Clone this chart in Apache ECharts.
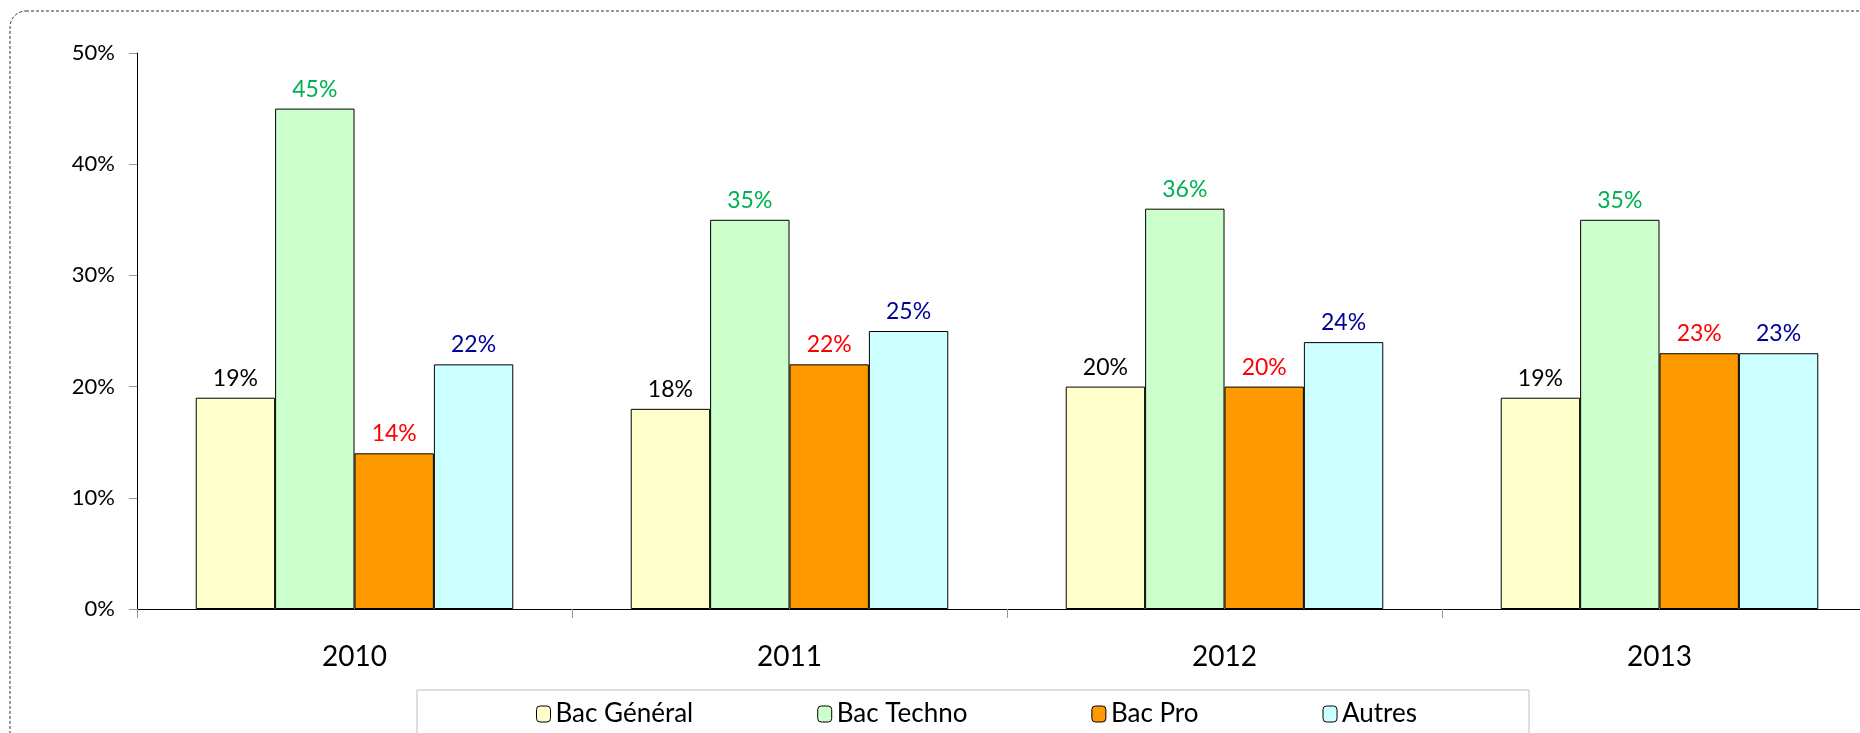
<!DOCTYPE html>
<html>
<head>
<meta charset="utf-8">
<script src="https://cdn.jsdelivr.net/npm/echarts@6/dist/echarts.min.js"></script>
<style>
  html, body { margin: 0; padding: 0; background: #fff; overflow: hidden; }
  #main { width: 1900px; height: 733px; }
</style>
</head>
<body>
<div id="main"></div>
<script>
// années et valeurs (%)
var years = ['2010', '2011', '2012', '2013'];
var bacGeneral = [19, 18, 20, 19];
var bacTechno = [45, 35, 36, 35];
var bacPro = [14, 22, 20, 23];
var autres = [22, 25, 24, 23];
var yTicks = [0, 10, 20, 30, 40, 50];

var font = 'Lato, "Open Sans", sans-serif';

function makeSeries(name, data, fill, labelColor) {
  return {
    name: name,
    type: 'bar',
    data: data,
    barGap: '0%',
    barCategoryGap: '27%',
    itemStyle: { color: fill, borderColor: '#000', borderWidth: 1 },
    label: {
      show: true,
      position: 'top',
      distance: 8,
      formatter: '{c}%',
      color: labelColor,
      fontFamily: font,
      fontSize: 23
    }
  };
}

var chart = echarts.init(document.getElementById('main'));
chart.setOption({
  animation: false,
  backgroundColor: '#fff',
  graphic: [{
    type: 'rect',
    shape: { x: 10, y: 11, width: 1950, height: 800, r: 16 },
    style: { fill: null, stroke: '#333', lineWidth: 1, lineDash: [3, 2] },
    z: -1
  }],
  grid: { left: 137, top: 53, width: 1740, bottom: 124, containLabel: false },
  legend: {
    left: 417,
    top: 690,
    padding: [11, 112, 40, 119],
    itemGap: 124,
    itemWidth: 14,
    itemHeight: 16,
    itemStyle: { borderColor: '#000', borderWidth: 1 },
    borderColor: '#bfbfbf',
    borderWidth: 1,
    textStyle: { fontFamily: font, fontSize: 26, color: '#000' },
    data: ['Bac Général', 'Bac Techno', 'Bac Pro', 'Autres']
  },
  xAxis: {
    type: 'category',
    data: years,
    axisLine: { lineStyle: { color: '#000', width: 1 } },
    axisTick: { show: true, length: 9, lineStyle: { color: '#999' } },
    axisLabel: { fontFamily: font, fontSize: 28, color: '#000', margin: 34 }
  },
  yAxis: {
    type: 'value',
    min: yTicks[0],
    max: yTicks[yTicks.length - 1],
    interval: 10,
    splitLine: { show: false },
    axisLine: { show: true, lineStyle: { color: '#000', width: 1 } },
    axisTick: { show: true, length: 8, lineStyle: { color: '#999' } },
    axisLabel: { formatter: '{value}%', fontFamily: font, fontSize: 22, color: '#000', margin: 22 }
  },
  series: [
    makeSeries('Bac Général', bacGeneral, '#FFFFCC', '#000'),
    makeSeries('Bac Techno', bacTechno, '#CCFFCC', '#00B050'),
    makeSeries('Bac Pro', bacPro, '#FF9900', '#FF0000'),
    makeSeries('Autres', autres, '#CCFFFF', '#000099')
  ]
});
</script>
</body>
</html>
